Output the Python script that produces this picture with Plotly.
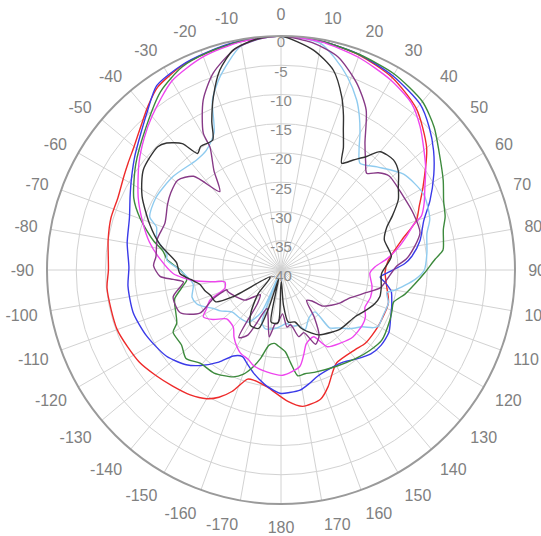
import plotly.graph_objects as go

# ---- angular ticks ----
ang_vals = list(range(0, 360, 10))
ang_text = [str(a) if a <= 180 else str(a - 360) for a in ang_vals]
rad_vals = [0, -5, -10, -15, -20, -25, -30, -35, -40]
rad_text = [str(v) for v in rad_vals]

# ---- series (theta in degrees, r in dB) ----
red_t = [0, 10, 20, 30, 40, 50, 60, 65, 70, 76, 85, 91, 99, 107, 120, 131, 137, 149, 153, 158, 163, 171, 177,
         -173, -166, -163, -158, -154, -150, -144, -137, -130, -123, -110, -96, -90, -80, -73, -66, -59, -55, -50,
         -44, -39, -34, -26, -19, -10, 0]
red_r = [0, -0.3, -0.9, -2.0, -4.0, -7.5, -12.0, -13.9, -15.4, -18.7, -21.6, -22.2, -21.7, -20.8, -20.8, -20.9,
         -21.4, -21.5, -20.5, -18.5, -16.9, -16.4, -17.5, -19.9, -20.6, -20.5, -17.6, -15.8, -14.6, -13.6, -12.85,
         -12.0, -11.1, -10.2, -10.1, -10.5, -10.0, -9.6, -9.5, -8.7, -8.1, -7.2, -5.6, -3.9, -2.3, -1.2, -0.8, -0.3, 0]

blue_t = [0, 10, 20, 30, 40, 46, 52, 58, 65, 71, 78, 84, 87, 91, 94, 97, 101, 105, 108, 114, 120, 127, 133, 140,
          146, 152, 161, 166, 171, 176, 180, -173, -169, -165, -160, -156, -151, -146, -140, -135, -127, -116, -106,
          -96, -89, -80, -71, -64, -58, -52, -45, -40, -34, -26, -19, -10, 0]
blue_r = [0, -0.3, -0.8, -1.7, -3.0, -4.8, -6.9, -9.2, -11.9, -14.2, -15.7, -17.5, -18.8, -21.5, -23.0, -22.0,
          -20.8, -20.4, -20.1, -19.5, -18.7, -18.6, -19.0, -20.1, -21.0, -21.2, -20.8, -20.0, -19.2, -19.0, -18.9,
          -20.0, -20.9, -21.8, -23.0, -23.8, -23.2, -21.0, -18.7, -17.1, -15.5, -14.4, -13.7, -13.7, -14.0, -13.3,
          -12.6, -11.3, -9.9, -8.3, -6.3, -4.5, -2.0, -1.1, -0.7, -0.2, 0]

green_t = [0, 10, 20, 30, 40, 47, 53, 61, 67, 72, 76, 80, 83, 86, 91, 96, 101, 106, 110, 115, 125, 132, 140, 150,
           162, 167, 171, 174, 177, -178, -175, -171, -167, -164, -160, -156, -147, -139, -133, -127, -120, -117,
           -108, -105, -99, -96, -90, -85, -81, -77, -70, -64, -54, -44, -34, -26, -19, -10, 0]
green_r = [0, -0.3, -0.8, -1.3, -2.4, -4.2, -6.2, -8.3, -9.8, -10.5, -11.4, -11.8, -12.1, -13.6, -15.4, -17.0,
           -18.4, -20.0, -19.8, -19.5, -19.0, -19.5, -20.2, -21.0, -21.6, -21.8, -21.7, -24.0, -26.0, -27.0, -27.4,
           -27.0, -24.5, -22.8, -21.0, -20.0, -19.0, -18.9, -17.8, -18.7, -18.7, -20.0, -20.9, -21.2, -23.1, -23.8,
           -22.8, -20.5, -19.6, -17.6, -14.4, -12.0, -9.3, -6.6, -3.2, -1.4, -0.8, -0.3, 0]

skyblue_t = [0, 5, 10, 14, 19, 24, 27, 30, 33, 36.5, 43, 52, 62, 71, 76, 83.5, 90, 94, 100, 102, 107, 114, 120,
             122, 125, 128, 131, 135, 140, 141, 150, 158, 163, 168, 174, 179, -175, -165, -160, -157, -155, -148,
             -140, -131, -128, -124, -119.5, -116, -112, -107, -99, -90, -85, -82, -76, -71, -68, -60, -49, -37.5,
             -32, -26, -22, -17.5, -10.4, -5, 0]
skyblue_r = [0, -0.2, -0.7, -2.5, -5.1, -8.2, -10.5, -13.0, -15.5, -17.3, -15.9, -13.4, -12.4, -13.1, -14.3, -14.9,
             -15.5, -17.0, -20.2, -21.5, -20.8, -20.9, -20.8, -21.4, -23.1, -23.9, -24.7, -26.0, -27.1, -30.8, -30.5,
             -29.0, -30.1, -30.2, -30.8, -30.5, -30.0, -29.6, -30.5, -38.5, -32.0, -29.5, -29.2, -29.0, -28.5, -27.5,
             -26.7, -25.6, -24.5, -24.1, -24.8, -22.7, -20.4, -20.3, -18.1, -17.5, -15.8, -15.3, -15.6, -16.3, -15.9,
             -13.9, -8.7, -5.35, -1.2, -0.3, 0]

magenta_t = [0, 10, 20, 30, 38, 44, 50, 55, 60, 65, 69, 71, 75, 79, 84, 88, 92, 100, 107, 114, 119, 124, 133, 141,
             149, 154, 161, 165, 169, 179, -172, -164, -160, -154, -150, -145, -140, -132, -126, -121, -118, -113,
             -108, -102, -100, -97, -92, -85, -78, -71, -63, -53, -46, -40, -30, -20, -10, 0]
magenta_r = [0, -0.4, -1.3, -2.5, -3.8, -5.8, -8.1, -9.8, -11.6, -13.0, -14.3, -16.0, -17.8, -19.5, -21.8, -23.9,
             -24.8, -24.2, -24.0, -24.3, -23.5, -23.2, -23.2, -23.9, -24.7, -27.3, -26.7, -25.0, -23.2, -22.0, -22.4,
             -23.0, -23.7, -24.2, -24.9, -26.0, -27.3, -27.5, -25.6, -24.5, -25.5, -26.8, -29.9, -30.2, -28.5, -25.0,
             -21.6, -19.3, -17.0, -15.0, -12.6, -9.6, -7.5, -5.7, -2.7, -1.2, -0.4, 0]

purple_t = [0, 8, 15, 22, 28, 33.5, 38, 41.5, 45, 49, 59, 67, 75, 80, 85, 88, 95, 100, 105, 110, 113, 119, 125,
            131, 135, 140, 145, 150, 155, 160, 165, 170, 174, 178, -176, -174, -170, -165, -160, -153, -148, -145,
            -140, -130, -120, -112, -110, -113, -118, -113, -104, -97, -95, -93, -88, -84, -76, -68, -60, -55, -49,
            -43, -38, -34, -30, -29.6, -24.6, -19, -12, -6, 0]
purple_r = [0, -0.8, -2.3, -5.5, -9.0, -14.0, -16.5, -17.9, -16.5, -15.5, -15.6, -15.4, -15.4, -16.8, -18.5, -20.2,
            -21.8, -22.7, -25.0, -26.7, -27.5, -28.4, -29.5, -30.6, -32.5, -33.2, -30.0, -27.0, -26.0, -28.6, -28.2,
            -30.5, -30.2, -32.5, -30.8, -30.8, -28.4, -31.5, -33.0, -27.5, -26.4, -33.0, -34.5, -32.0, -31.0, -30.2,
            -30.15, -27.4, -24.3, -21.3, -21.0, -23.2, -21.5, -19.3, -18.2, -18.5, -18.2, -18.6, -17.6, -17.0, -16.6,
            -18.1, -23.0, -19.5, -15.7, -13.1, -8.05, -4.4, -1.5, -0.4, 0]

black_t = [0, 8.4, 14.7, 19.3, 22, 24, 27, 29.6, 33.3, 37, 40, 45.6, 50, 54.6, 59, 64, 68, 73.7, 83, 92, 100, 105,
           110, 117, 122, 135, 141, 150, 154, 160.6, 165, 172, 176, 178, -179, -177, -172, -169, -167, -165, -162,
           -159, -151, -145, -140, -136, -128, -122, -119, -116, -110, -105, -100, -96, -92, -86, -78, -71, -62, -54,
           -45, -42, -38, -35.6, -33, -27.7, -25, -21.3, -17, -12.2, -6, 0]
black_r = [0, -2.0, -4.7, -8.6, -11.5, -13.8, -16.5, -19.0, -17.5, -15.7, -13.6, -13.1, -13.8, -15.4, -16.6, -18.8,
           -20.5, -21.6, -21.0, -22.8, -22.6, -22.5, -23.0, -24.2, -25.0, -25.7, -26.3, -27.2, -28.0, -29.4, -30.8,
           -31.0, -34.0, -38.0, -37.0, -31.0, -30.8, -31.0, -36.0, -38.5, -33.0, -29.3, -29.2, -31.0, -33.0, -34.4,
           -37.5, -37.8, -30.5, -27.6, -27.2, -26.5, -25.9, -24.5, -22.7, -22.1, -18.8, -16.3, -13.1, -10.9, -10.2,
           -10.8, -12.6, -15.5, -14.8, -14.9, -12.0, -8.2, -4.25, -1.5, -0.3, 0]

series = [
    ("red", red_t, red_r, "#ee2b2b"),
    ("blue", blue_t, blue_r, "#3a3ae8"),
    ("green", green_t, green_r, "#3d8a3d"),
    ("skyblue", skyblue_t, skyblue_r, "#8fcbef"),
    ("magenta", magenta_t, magenta_r, "#ee45ee"),
    ("purple", purple_t, purple_r, "#873a87"),
    ("black", black_t, black_r, "#333333"),
]

FONT = "Liberation Sans, Arial, sans-serif"

fig = go.Figure()
for name, t, r, c in series:
    fig.add_trace(go.Scatterpolar(theta=t, r=r, mode="lines", name=name,
                                  line=dict(color=c, width=1.4, shape="spline", smoothing=0.7),
                                  hoverinfo="skip"))

# radial tick labels drawn along the 0-degree spoke
fig.add_trace(go.Scatterpolar(theta=[0] * len(rad_vals), r=rad_vals, mode="text", text=rad_text,
                              textposition="bottom center", cliponaxis=False,
                              textfont=dict(family=FONT, size=15, color="#8a8a8a"),
                              hoverinfo="skip", showlegend=False))

fig.update_layout(
    width=541, height=536, autosize=False,
    margin=dict(l=47, r=26, t=36, b=32),
    paper_bgcolor="white",
    showlegend=False,
    polar=dict(
        bgcolor="white",
        radialaxis=dict(range=[-40, 0], tickvals=rad_vals[1:-1], showticklabels=False, ticks="",
                        showline=False, gridcolor="#d2d2d2", gridwidth=1.2),
        angularaxis=dict(rotation=90, direction="clockwise", tickmode="array", tickvals=ang_vals,
                         ticktext=ang_text, ticks="outside", ticklen=9, tickcolor="rgba(0,0,0,0)",
                         showline=True, linecolor="#9a9a9a", linewidth=2,
                         gridcolor="#d2d2d2", gridwidth=1.2,
                         tickfont=dict(family=FONT, size=16, color="#808080")),
    ),
)

fig.write_html("out.html")
